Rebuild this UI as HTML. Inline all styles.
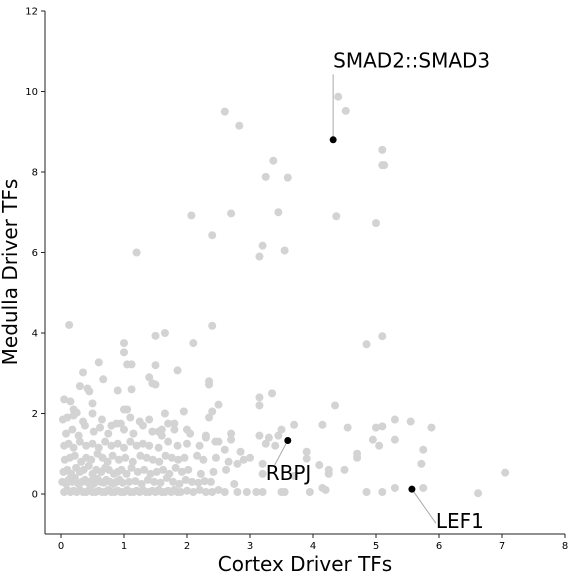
<!DOCTYPE html>
<html><head><meta charset="utf-8"><style>
body{margin:0;background:#fff}
svg{font-family:"DejaVu Sans","Liberation Sans",sans-serif}
</style></head><body>
<svg id="c" width="576" height="576"></svg>
<script>
const xTicks=[0,1,2,3,4,5,6,7,8];
const yTicks=[0,2,4,6,8,10,12];
const bgX=[0.13,1.2,2.6,2.83,2.07,2.7,2.4,3.2,3.15,3.25,3.37,3.6,3.45,3.55,4.4,4.52,4.37,5.1,5.1,5.13,5.0,4.85,5.1,2.4,1.65,1.5,1.0,2.1,1.0,1.05,1.12,0.6,1.5,1.85,0.35,1.4,1.5,1.45,0.67,2.35,2.35,0.3,1.12,0.42,0.45,0.9,3.35,3.15,3.15,4.35,2.5,2.4,2.35,1.65,1.95,0.5,0.15,0.2,0.05,0.25,1.0,1.05,1.8,1.6,1.55,3.15,3.3,3.45,3.5,3.7,4.15,4.55,5.0,5.1,5.3,5.55,5.88,4.95,5.05,5.3,5.75,5.72,7.05,6.62,5.75,5.3,5.1,4.85,4.7,4.7,4.5,4.25,4.25,4.1,4.15,4.2,3.95,3.9,3.9,3.7,3.5,3.55,3.2,3.1,3.2,3.2,3.25,3.4,2.75,2.85,2.95,2.8,2.7,2.8,2.45,2.6,
0.05,0.1,0.15,0.2,0.25,0.3,0.35,0.4,0.45,0.5,0.55,0.6,0.65,0.7,0.75,0.8,0.85,0.9,0.95,1.0,1.05,1.1,1.15,1.2,1.25,1.3,1.35,1.4,1.45,1.5,1.55,1.6,1.65,1.7,1.75,1.8,1.85,1.9,2.0,2.1,2.2,2.3,2.4,2.5,2.6,
0.02,0.08,0.12,0.18,0.22,0.28,0.33,0.38,0.43,0.48,0.52,0.58,0.63,0.68,0.72,0.78,0.83,0.88,0.93,0.98,1.08,1.18,1.28,1.38,1.48,1.58,1.68,1.78,1.88,1.98,2.08,2.18,2.28,2.38,
0.04,0.1,0.16,0.24,0.3,0.36,0.44,0.5,0.56,0.64,0.7,0.76,0.84,0.9,0.96,1.04,1.12,1.22,1.32,1.42,1.52,1.62,1.72,1.82,1.92,2.02,2.22,2.42,2.62,
0.06,0.14,0.22,0.32,0.4,0.48,0.58,0.66,0.74,0.82,0.92,1.02,1.14,1.26,1.36,1.46,1.56,1.66,1.76,1.86,1.96,2.16,2.26,2.46,2.66,2.9,3.0,
0.05,0.12,0.2,0.3,0.4,0.5,0.6,0.7,0.8,0.9,1.0,1.1,1.2,1.3,1.4,1.55,1.7,1.85,2.0,2.2,2.5,
0.08,0.18,0.28,0.38,0.52,0.62,0.75,0.88,1.0,1.15,1.3,1.45,1.6,1.8,2.05,2.3,
0.03,0.1,0.2,0.35,0.5,0.65,0.8,0.95,1.1,1.25,1.4,1.7,2.0,2.3,2.7];
const bgY=[4.2,6.0,9.5,9.15,6.92,6.97,6.43,6.17,5.9,7.88,8.28,7.86,7.0,6.05,9.87,9.52,6.9,8.55,8.17,8.17,6.73,3.72,3.92,4.18,4.0,3.93,3.75,3.75,3.52,3.22,3.22,3.27,3.2,3.07,3.02,2.9,2.72,2.75,2.85,2.8,2.72,2.68,2.6,2.62,2.55,2.57,2.5,2.4,2.2,2.2,2.22,2.05,1.9,2.0,2.05,2.25,2.3,2.1,2.35,2.02,2.1,2.1,1.75,1.6,1.55,1.45,1.4,1.45,1.6,1.72,1.72,1.65,1.65,1.68,1.85,1.8,1.65,1.35,1.2,1.35,1.1,0.75,0.53,0.02,0.15,0.15,0.05,0.05,1.0,0.9,0.6,0.6,0.5,0.72,0.15,0.1,0.05,1.05,0.88,0.45,0.05,0.05,0.05,0.05,0.5,0.75,1.25,1.2,0.25,1.05,0.05,0.05,1.35,0.75,1.3,1.1,
0.05,0.1,0.05,0.08,0.05,0.1,0.05,0.05,0.1,0.05,0.05,0.08,0.05,0.05,0.1,0.05,0.05,0.08,0.05,0.05,0.1,0.05,0.05,0.08,0.05,0.1,0.05,0.05,0.08,0.05,0.1,0.05,0.05,0.08,0.05,0.1,0.05,0.05,0.08,0.05,0.1,0.05,0.05,0.1,0.05,
0.3,0.25,0.35,0.3,0.4,0.25,0.3,0.35,0.28,0.32,0.25,0.38,0.3,0.28,0.35,0.3,0.25,0.3,0.35,0.28,0.3,0.32,0.25,0.35,0.3,0.28,0.4,0.3,0.25,0.35,0.3,0.28,0.32,0.3,
0.55,0.6,0.5,0.65,0.55,0.6,0.7,0.5,0.6,0.55,0.65,0.6,0.5,0.55,0.6,0.5,0.65,0.55,0.6,0.5,0.55,0.6,0.5,0.65,0.55,0.6,0.5,0.55,0.6,
0.85,0.9,0.95,0.8,0.9,0.85,1.0,0.9,0.8,0.95,0.85,0.9,0.8,0.95,0.9,0.85,0.8,0.95,0.9,0.85,0.9,0.95,0.85,0.9,0.8,0.85,0.9,
1.2,1.25,1.15,1.3,1.2,1.25,1.15,1.3,1.2,1.25,1.15,1.3,1.2,1.25,1.2,1.15,1.3,1.2,1.25,1.2,1.3,
1.5,1.6,1.45,1.7,1.55,1.65,1.5,1.75,1.6,1.5,1.7,1.55,1.45,1.6,1.5,1.4,
1.85,1.9,1.95,1.8,2.0,1.85,1.7,1.75,1.9,1.8,1.85,1.75,1.6,1.45,1.5];
const hlX=[4.32,3.6,5.57];
const hlY=[8.8,1.33,0.12];
const hlLabels=["SMAD2::SMAD3","RBPJ","LEF1"];
const lblX=[4.32,3.25,5.95];
const lblY=[10.6,0.35,-0.85];

const NS="http://www.w3.org/2000/svg",svg=document.getElementById('c');
const sx=v=>61+v*63, sy=v=>494-v*40.25;
function mk(t,a,p){const e=document.createElementNS(NS,t);for(const k in a)e.setAttribute(k,a[k]);(p||svg).appendChild(e);return e;}
const ax=mk('g',{});


mk('line',{x1:45,y1:11,x2:45,y2:534,stroke:'#222','stroke-width':1},ax);
mk('line',{x1:45,y1:534,x2:565,y2:534,stroke:'#222','stroke-width':1},ax);
xTicks.forEach(t=>{mk('line',{x1:sx(t),x2:sx(t),y1:534,y2:538,stroke:'#222'},ax);
const e=mk('text',{x:sx(t),y:549,'font-size':10,'text-anchor':'middle'},ax);e.textContent=t;
});
yTicks.forEach(t=>{mk('line',{x1:41,x2:45,y1:sy(t),y2:sy(t),stroke:'#222'},ax);
const e=mk('text',{x:38,y:sy(t)+3.5,'font-size':10,'text-anchor':'end'},ax);e.textContent=t;
});
let e=mk('text',{x:305,y:571,'font-size':20,'text-anchor':'middle'});e.textContent='Cortex Driver TFs';

e=mk('text',{x:0,y:0,'font-size':20,'text-anchor':'middle',transform:'translate(17,272) rotate(-90)'});e.textContent='Medulla Driver TFs';

const pg=mk('g',{});


bgX.forEach((x,i)=>{const c=mk('circle',{cx:sx(x),cy:sy(bgY[i]),r:4,fill:'#d3d3d3'},pg);
});
hlX.forEach((x,i)=>{
const lx=sx(lblX[i]),ly=sy(lblY[i]);
const ly2 = i==0? ly+7 : (i==1? ly-15: ly-5);
const lx2 = i==1? lx+9 : lx;
mk('line',{x1:sx(x),y1:sy(hlY[i]),x2:lx2,y2:ly2,stroke:'#aaa','stroke-width':1});
const c=mk('circle',{cx:sx(x),cy:sy(hlY[i]),r:3.5,fill:'#000'});

const t=mk('text',{x:lx,y:ly,'font-size':20});t.textContent=hlLabels[i];
});
</script>
</body></html>
